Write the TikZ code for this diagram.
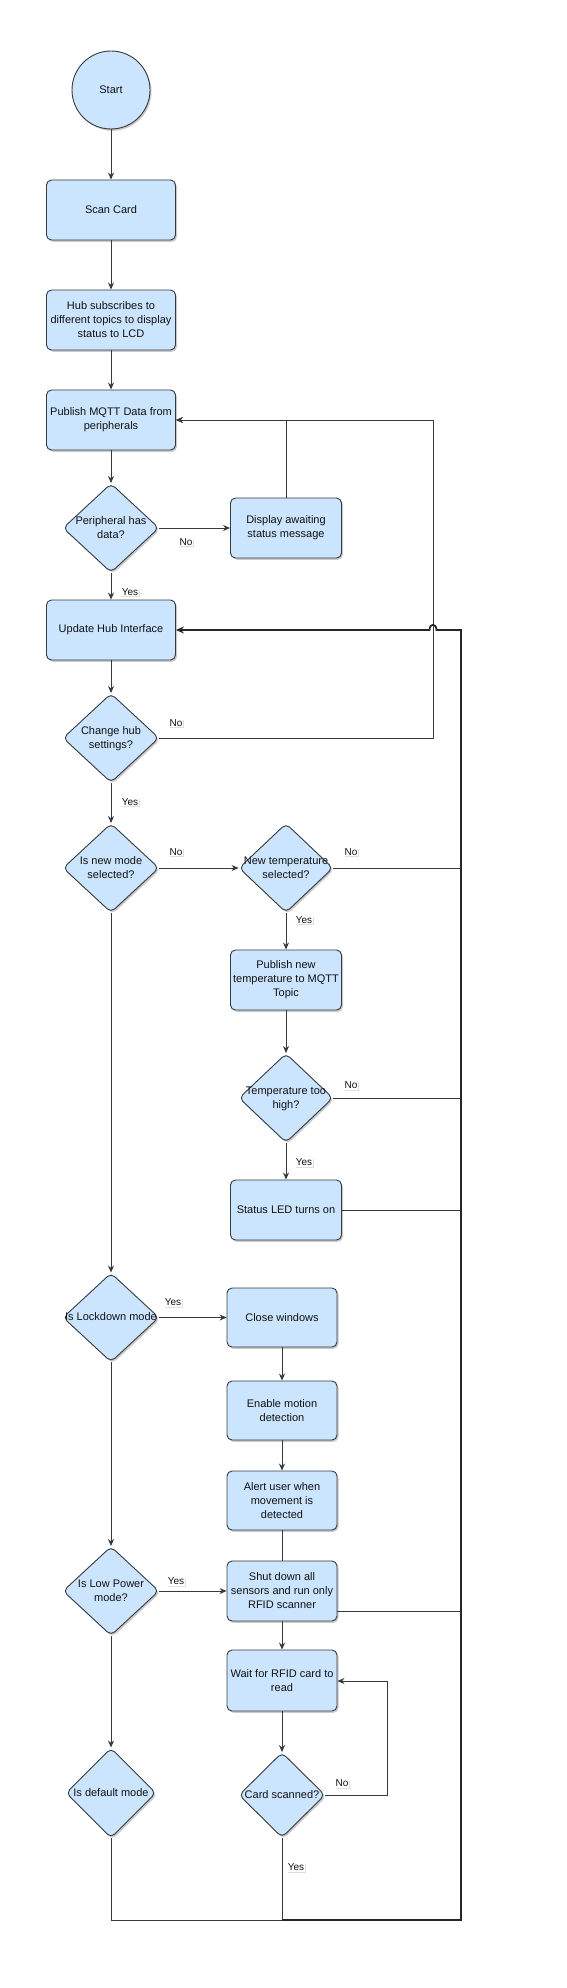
\documentclass[tikz,border=0pt]{standalone}
\usepackage{fontspec}
\setmainfont{Liberation Sans}
\usetikzlibrary{shapes.geometric,arrows.meta,shadows}
\definecolor{boxfill}{HTML}{CCE5FF}
\definecolor{boxline}{HTML}{36393D}
\definecolor{txt}{HTML}{111111}
\newcommand{\zt}[1]{\makebox[0pt]{\smash{\raisebox{-3pt}{\begin{tabular}{@{}c@{}}#1\end{tabular}}}}}
\begin{document}
\begin{tikzpicture}[x=1pt,y=-1pt,
  base/.style={draw=boxline, fill=boxfill, line width=0.9pt,
    drop shadow={shadow xshift=1.5pt,shadow yshift=-1.8pt,opacity=0.35,fill=black!60},
    font=\fontsize{11}{14}\selectfont, text=txt},
  proc/.style={base, rectangle, rounded corners=5pt, minimum width=129pt,
    minimum height=60pt, inner sep=0pt, align=center},
  procb/.style={proc, minimum width=111pt},
  procc/.style={proc, minimum width=110pt, minimum height=59pt},
  dec/.style={base, diamond, rounded corners=5pt, minimum width=96pt,
    minimum height=89pt, inner sep=0pt},
  lab/.style={fill=white, text=txt, font=\fontsize{10}{12}\selectfont, inner sep=1pt,
    drop shadow={shadow xshift=1pt,shadow yshift=-1pt,opacity=0.25}},
  ln/.style={draw=boxline, line width=0.9pt},
  arr/.style={ln, -{Stealth[length=7pt,width=6pt]}},
  thk/.style={draw=black!85, line width=1.8pt}
]
\useasboundingbox (0,0) rectangle (567,1988);

% main column
\node[base, circle, minimum size=78pt, inner sep=0pt] (start) at (111,90) {Start};
\node[proc] (scan) at (111,210) {Scan Card};
\node[proc] (hub) at (111,320) {Hub subscribes to\\different topics to display\\status to LCD};
\node[proc] (publish) at (111,420) {Publish MQTT Data from\\peripherals};
\node[dec] (periph) at (111,528) {\zt{Peripheral has\\data?}};
\node[procb] (display) at (286,528) {Display awaiting\\status message};
\node[proc] (update) at (111,630) {Update Hub Interface};
\node[dec] (change) at (111,738) {\zt{Change hub\\settings?}};
\node[dec] (newmode) at (111,868) {\zt{Is new mode\\selected?}};
\node[dec, minimum width=94pt] (newtemp) at (286,868) {\zt{New temperature\\selected?}};
\node[procb] (pubtemp) at (286,980) {Publish new\\temperature to MQTT\\Topic};
\node[dec, minimum width=94pt] (toohigh) at (286,1098) {\zt{Temperature too\\high?}};
\node[procb] (led) at (286,1210) {Status LED turns on};
\node[dec] (lockdown) at (111,1317.5) {\zt{Is Lockdown mode}};
\node[procc] (close) at (282,1317.5) {Close windows};
\node[procc] (enable) at (282,1410.5) {Enable motion\\detection};
\node[procc] (alert) at (282,1500.5) {Alert user when\\movement is\\detected};
\node[dec] (lowpower) at (111,1591) {\zt{Is Low Power\\mode?}};
\node[procc, minimum height=60pt] (shut) at (282,1591) {Shut down all\\sensors and run only\\RFID scanner};
\node[procc, minimum height=61pt] (wait) at (282,1680.5) {Wait for RFID card to\\read};
\node[dec, minimum width=90pt, minimum height=90pt] (default) at (111,1793) {\zt{Is default mode}};
\node[dec, minimum width=86pt, minimum height=85pt] (cardscan) at (282,1795) {\zt{Card scanned?}};

% helper coordinates
\coordinate (lt) at (433,420);
\coordinate (brc) at (461,1920);
\coordinate (trc) at (461,630);
\coordinate (hopR) at (436.5,630);
\coordinate (hopL) at (429.5,630);
\coordinate (cl) at (387,1681);
\coordinate (sj) at ([yshift=10pt]shut.south east);

% straight arrows
\draw[arr] (start) -- (scan);
\draw[arr] (scan) -- (hub);
\draw[arr] (hub) -- (publish);
\draw[arr] (publish) -- (periph);
\draw[arr] (periph) -- (display);
\draw[arr] (periph) -- (update);
\draw[arr] (update) -- (change);
\draw[arr] (change) -- (newmode);
\draw[arr] (newmode) -- (newtemp);
\draw[arr] (newtemp) -- (pubtemp);
\draw[arr] (pubtemp) -- (toohigh);
\draw[arr] (toohigh) -- (led);
\draw[arr] (newmode) -- (lockdown);
\draw[arr] (lockdown) -- (close);
\draw[arr] (close) -- (enable);
\draw[arr] (enable) -- (alert);
\draw[ln] (alert) -- (shut);
\draw[arr] (lockdown) -- (lowpower);
\draw[arr] (lowpower) -- (shut);
\draw[arr] (lowpower) -- (default);
\draw[arr] (shut) -- (wait);
\draw[arr] (wait) -- (cardscan);

% loops back to publish
\draw[arr] (display.north) |- (publish.east);
\draw[arr] (change.east) -| (lt) -- (publish.east);

% card scanned No loop
\draw[arr] (cardscan.east) -| (cl) -- (cl -| wait.east);

% joins to the return line
\draw[ln] (newtemp.east) -- (newtemp.east -| brc);
\draw[ln] (toohigh.east) -- (toohigh.east -| brc);
\draw[ln] (led.east) -- (led.east -| brc);
\draw[ln] (sj) -- (sj -| brc);
\draw[ln] (default.south) |- (cardscan.south |- brc);
\draw[ln] (cardscan.south) -- (cardscan.south |- brc);

% main return line to Update Hub Interface
\draw[thk, -{Stealth[length=8pt,width=7pt]}] (cardscan.south |- brc) -- (brc) -- (trc) -- (hopR)
  .. controls +(0,-7) and +(0,-7) .. (hopL) -- (update.east);

% labels
\node[lab] (l1) at (186,542) {No};
\node[lab] (l2) at (130,592) {Yes};
\node[lab] (l3) at (176,723) {No};
\node[lab] (l4) at (130,802) {Yes};
\node[lab] (l5) at (176,852) {No};
\node[lab] (l6) at (351,852) {No};
\node[lab] (l7) at (304,920) {Yes};
\node[lab] (l8) at (351,1085) {No};
\node[lab] (l9) at (304,1162) {Yes};
\node[lab] (l10) at (173,1302) {Yes};
\node[lab] (l11) at (176,1581) {Yes};
\node[lab] (l12) at (342,1783) {No};
\node[lab] (l13) at (296,1867) {Yes};
\end{tikzpicture}
\end{document}
